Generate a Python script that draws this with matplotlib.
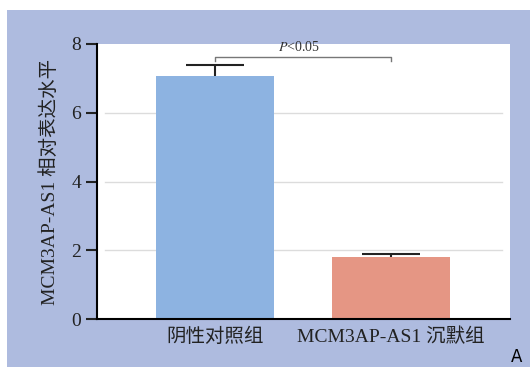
"""Expression relative de MCM3AP-AS1 : témoin négatif vs silençage."""

import matplotlib

matplotlib.use("Agg")

import matplotlib.pyplot as plt
from matplotlib.patches import Rectangle

groups = ["阴性对照组", "MCM3AP-AS1 沉默组"]
means = [7.08, 1.80]
errors = [0.32, 0.09]
bar_colors = ["#8DB3E1", "#E59684"]
y_ticks = [0, 2, 4, 6, 8]
p_label = r"$\mathit{P}$<0.05"
bracket_y = 7.62

plt.rcParams["font.family"] = ["Liberation Serif", "Noto Sans CJK SC"]
plt.rcParams["mathtext.fontset"] = "stix"

fig = plt.figure(figsize=(5.30, 3.67), dpi=100, facecolor="white")
# fond de panneau bleu, sous les axes
fig.patches.append(
    Rectangle((7 / 530, 0), 1, 1 - 10 / 367, transform=fig.transFigure,
              facecolor="#AEBBDF", edgecolor="none", zorder=-10)
)

ax = fig.add_axes([97 / 530, 1 - 319 / 367, 413 / 530, 275 / 367])
ax.set_zorder(5)
ax.set_facecolor("white")

x = list(range(len(groups)))
for yv in y_ticks[1:-1]:
    ax.axhline(yv, xmin=0.02, xmax=0.98, color="#DCDCDC", lw=1, zorder=1)

ax.bar(x, means, width=0.67, color=bar_colors, zorder=2)

# barres d'erreur vers le haut uniquement
tops = [m + e for m, e in zip(means, errors)]
ax.vlines(x, means, tops, color="#222222", lw=1.5, zorder=3)
ax.hlines(tops, [xi - 0.165 for xi in x], [xi + 0.165 for xi in x],
          color="#222222", lw=1.5, zorder=3)

# crochet de significativité
ax.plot([x[0], x[0], x[1], x[1]],
        [bracket_y - 0.12, bracket_y, bracket_y, bracket_y - 0.12],
        color="#777777", lw=1, zorder=3, clip_on=False)
ax.text(0.48, bracket_y + 0.08, p_label, ha="center", va="bottom",
        fontsize=10, color="#333333")

ax.set_xlim(-0.67, 1.676)
ax.set_ylim(0, 8)
ax.set_yticks(y_ticks)
ax.set_xticks(x)
ax.set_xticklabels(groups, fontsize=14, color="#222222")
ax.tick_params(axis="y", labelsize=14, length=8, width=1.5, colors="#222222")
ax.tick_params(axis="x", length=0, pad=6)

for side in ("top", "right"):
    ax.spines[side].set_visible(False)
for side in ("left", "bottom"):
    ax.spines[side].set_linewidth(1.5)
    ax.spines[side].set_color("black")

ax.set_ylabel("MCM3AP-AS1 相对表达水平", fontsize=14, color="#222222", labelpad=9)

fig.text(517 / 530, 1 - 357 / 367, "A", family="DejaVu Sans", fontsize=12,
         ha="center", va="center", color="black")

fig.savefig("out.png", dpi=100, facecolor=fig.get_facecolor())
